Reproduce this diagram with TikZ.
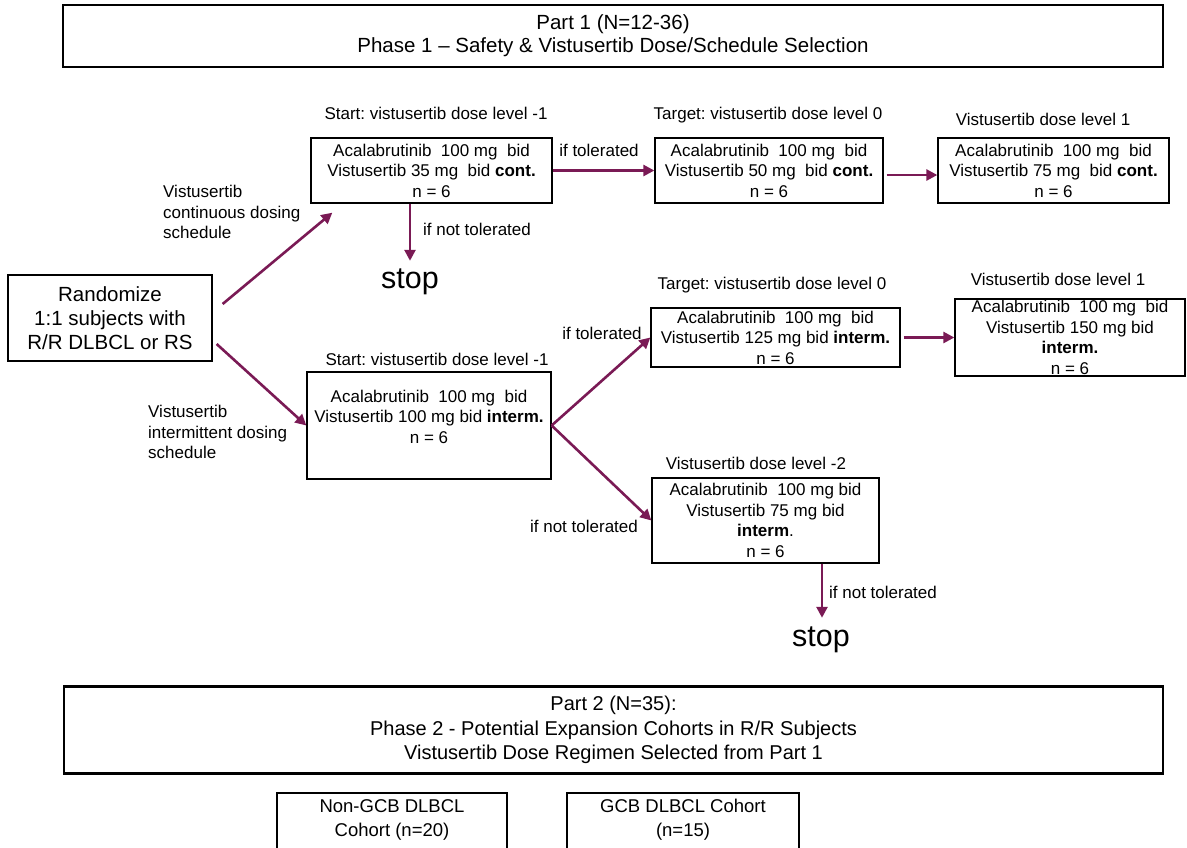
\documentclass[tikz,border=0pt]{standalone}
\usepackage{fontspec}
\setmainfont{Liberation Sans}
\usetikzlibrary{arrows.meta,calc}
\newcommand\myfs[2]{\fontsize{#1}{#2}\selectfont}
\definecolor{arrowc}{HTML}{7A1A55}
\frenchspacing
\tikzset{
  smallbox/.style={draw=black, line width=1.3pt, inner sep=0pt, align=center, font=\myfs{17pt}{20.5pt}},
  bigbox/.style={draw=black, line width=2.8pt, inner sep=0pt, align=center},
  lbl/.style={inner sep=0pt, font=\myfs{17pt}{20.5pt}},
  stoptxt/.style={inner sep=0pt, font=\myfs{30.5pt}{34pt}},
  arr/.style={draw=arrowc, line width=2.6pt, -{Triangle[length=11pt,width=11pt]}},
}
\begin{document}
\begin{tikzpicture}[x=1pt,y=-1pt]
\useasboundingbox (0,0) rectangle (1187,847);
\clip (0,0) rectangle (1187,847);

% Part 1 header
\node[bigbox, minimum width=1100pt, minimum height=62pt, font=\myfs{20.5pt}{23pt}] (top) at (613,36)
  {Part 1 (N=12-36)\\Phase 1 -- Safety \& Vistusertib Dose/Schedule Selection};

% Randomize
\node[smallbox, minimum width=204pt, minimum height=86pt, font=\myfs{20.5pt}{24pt}] (rand) at (110,318)
  {Randomize\\1:1 subjects with\\R/R DLBCL or RS};

% Upper (continuous) row
\node[smallbox, minimum width=241pt, minimum height=65pt] (s1) at (431.5,170.5)
  {Acalabrutinib\ \ 100 mg\ \ bid\\Vistusertib 35 mg\ \ bid \textbf{cont.}\\n = 6};
\node[lbl] (s1lbl) at (436,113) {Start: vistusertib dose level -1};

\node[smallbox, minimum width=228pt, minimum height=65pt] (t1) at (769,170.5)
  {Acalabrutinib\ \ 100 mg\ \ bid\\Vistusertib 50 mg\ \ bid \textbf{cont.}\\n = 6};
\node[lbl] (t1lbl) at (768,115) {Target: vistusertib dose level 0};

\node[smallbox, minimum width=231pt, minimum height=65pt] (l1) at (1053.5,170.5)
  {Acalabrutinib\ \ 100 mg\ \ bid\\Vistusertib 75 mg\ \ bid \textbf{cont.}\\n = 6};
\node[lbl] (l1lbl) at (1043,119) {Vistusertib dose level 1};

\node[stoptxt] (stop1) at (410,282) {stop};

% Lower (intermittent) row
\node[smallbox, minimum width=244pt, minimum height=107pt] (s2) at (429,425.5) {};
\node[lbl, align=center] (s2txt) at (429,416.5)
  {Acalabrutinib\ \ 100 mg\ \ bid\\Vistusertib 100 mg bid \textbf{interm.}\\n = 6};
\node[lbl] (s2lbl) at (437,359) {Start: vistusertib dose level -1};

\node[smallbox, minimum width=249pt, minimum height=59pt] (t2) at (775.5,337.5)
  {Acalabrutinib\ \ 100 mg\ \ bid\\Vistusertib 125 mg bid \textbf{interm.}\\n = 6};
\node[lbl] (t2lbl) at (772,285) {Target: vistusertib dose level 0};

\node[smallbox, minimum width=230pt, minimum height=77pt] (l2) at (1070,337.5)
  {Acalabrutinib\ \ 100 mg\ \ bid\\Vistusertib 150 mg bid\\\textbf{interm.}\\n = 6};
\node[lbl] (l2lbl) at (1058,279) {Vistusertib dose level 1};

\node[smallbox, minimum width=227pt, minimum height=85pt] (d2) at (765.5,520.5)
  {Acalabrutinib\ \ 100 mg bid\\Vistusertib 75 mg bid\\\textbf{interm}.\\n = 6};
\node[lbl] (d2lbl) at (756,463) {Vistusertib dose level -2};

\node[stoptxt] (stop2) at (821,640) {stop};

% Side labels
\node[lbl, align=left, anchor=west] (contlbl) at (163,212) {Vistusertib\\continuous dosing\\schedule};
\node[lbl, align=left, anchor=west] (intlbl) at (148,432) {Vistusertib\\intermittent dosing\\schedule};
\node[lbl] (tol1) at (599,150) {if tolerated};
\node[lbl] (ntol1) at (477,229) {if not tolerated};
\node[lbl] (tol2) at (602,333) {if tolerated};
\node[lbl] (ntol2) at (584,526) {if not tolerated};
\node[lbl] (ntol3) at (883,592) {if not tolerated};

% Part 2
\node[bigbox, minimum width=1099pt, minimum height=87pt, font=\myfs{20pt}{24.5pt}] (p2) at (613.5,730)
  {Part 2 (N=35):\\Phase 2 - Potential Expansion Cohorts in R/R Subjects\\Vistusertib Dose Regimen Selected from Part 1};

\node[bigbox, minimum width=230pt, minimum height=80pt] (c1) at (392,833) {};
\node[inner sep=0pt, align=center, font=\myfs{18.5pt}{24pt}] (c1txt) at (392,820) {Non-GCB DLBCL\\Cohort (n=20)};
\node[bigbox, minimum width=232pt, minimum height=80pt] (c2) at (683,833) {};
\node[inner sep=0pt, align=center, font=\myfs{18.5pt}{24pt}] (c2txt) at (683,820) {GCB DLBCL Cohort\\(n=15)};

% Connectors
\draw[arr] ([shift={(10,-14)}]rand.east) -- ([shift={(22,9)}]s1.south west);
\draw[arr] ([shift={(4,26)}]rand.east) -- (s2.west);
\draw[arr] (s1.east) -- (t1.west);
\draw[arr] ([shift={(3,4.5)}]t1.east) -- ([shift={(0,4.5)}]l1.west);
\draw[arr] (s1.south -| stop1) -- ([yshift=8pt]stop1.north);
\draw[arr] (s2.east) -- (t2.west);
\draw[arr] (s2.east) -- (d2.west);
\draw[arr] ([xshift=3pt]t2.east) -- (l2.west);
\draw[arr] ([xshift=1pt]d2.south -| stop2) -- ([shift={(1,-9)}]stop2.north);
\end{tikzpicture}
\end{document}
